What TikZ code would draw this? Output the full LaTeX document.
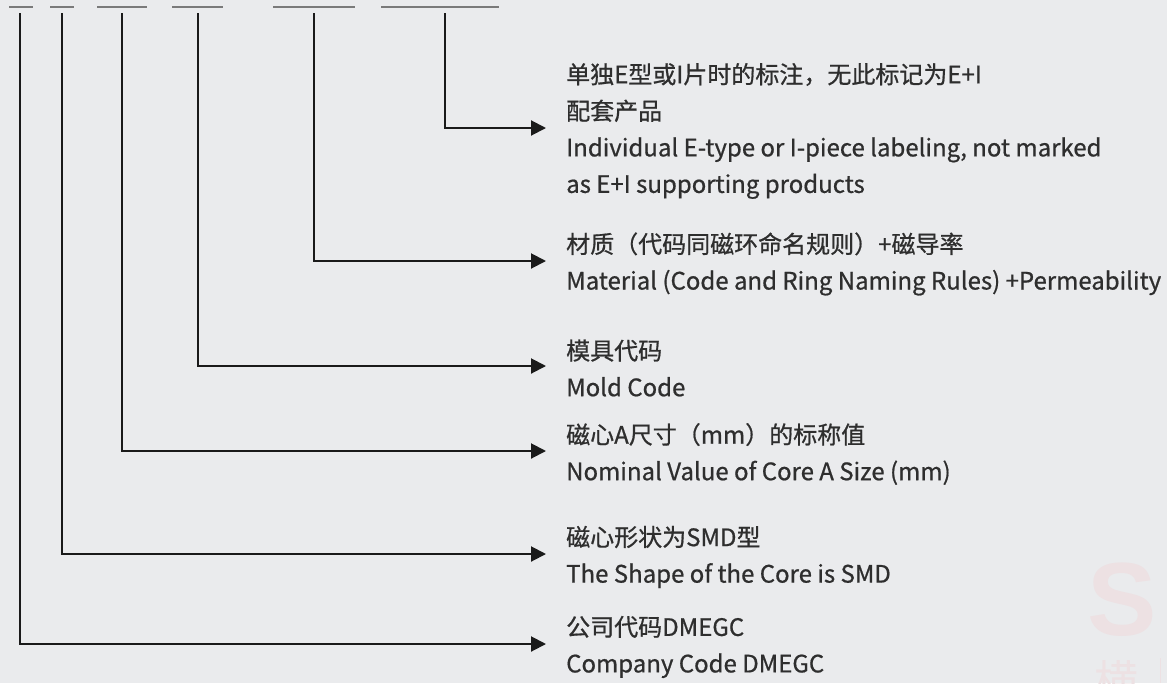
\documentclass[tikz,border=0pt]{standalone}
\usepackage{fontspec}
\setmainfont{Noto Sans CJK SC}
\newfontfamily\medfont{Noto Sans CJK SC}[FakeBold=0.7]
\newfontfamily\wmfont{Liberation Sans}
\usetikzlibrary{arrows.meta}
\definecolor{bgc}{HTML}{EAEBED}
\definecolor{txt}{HTML}{2E2E2E}
\definecolor{ln}{HTML}{1A1A1A}
\definecolor{ul}{HTML}{7A7A7A}
\definecolor{wm}{HTML}{EDE1E3}
\tikzset{
  conn/.style={draw=ln, line width=2pt, -{Triangle[length=15pt,width=15pt]}},
  uline/.style={draw=ul, line width=1.6pt},
  lbl/.style={anchor=west, inner xsep=20pt, inner ysep=0pt, align=left, text=txt,
    font=\medfont\fontsize{24}{36.5}\selectfont},
}
\begin{document}
\begin{tikzpicture}[x=1pt,y=-1pt]
\useasboundingbox[fill=bgc] (0,0) rectangle (1167,683);
% watermark
\node[text=wm, font=\wmfont\bfseries\fontsize{104}{104}\selectfont, inner sep=0pt] (wmS) at (1122,600) {S};
\node[text=wm, font=\fontsize{44}{44}\selectfont, inner sep=0pt] (wmH) at (1116,681) {横};
\draw[wm, line width=1pt] (1160,658) -- (1160,683);
% underlines
\draw[uline] (9,7) -- (33,7);
\draw[uline] (50,7) -- (74,7);
\draw[uline] (97,7) -- (147,7);
\draw[uline] (172,7) -- (223,7);
\draw[uline] (273,7) -- (355,7);
\draw[uline] (381,7) -- (499,7);
% starts
\coordinate (s1) at (20,13);
\coordinate (s2) at (62,13);
\coordinate (s3) at (122,13);
\coordinate (s4) at (198,13);
\coordinate (s5) at (314,13);
\coordinate (s6) at (445,13);
% labels
\node[lbl] (g6) at (546,131) {单独E型或I片时的标注，无此标记为E+I\\配套产品\\Individual E-type or I-piece labeling, not marked\\as E+I supporting products};
\node[lbl] (g5) at (546,264) {材质（代码同磁环命名规则）+磁导率\\Material (Code and Ring Naming Rules) +Permeability};
\node[lbl] (g4) at (546,368) {模具代码\\Mold Code};
\node[lbl] (g3) at (546,454) {磁心A尺寸（mm）的标称值\\Nominal Value of Core A Size (mm)};
\node[lbl] (g2) at (546,557) {磁心形状为SMD型\\The Shape of the Core is SMD};
\node[lbl] (g1) at (546,647) {公司代码DMEGC\\Company Code DMEGC};
% connectors
\draw[conn] (s6) |- ([yshift=3pt]g6.west);
\draw[conn] (s5) |- ([yshift=3pt]g5.west);
\draw[conn] (s4) |- ([yshift=2pt]g4.west);
\draw[conn] (s3) |- ([yshift=3pt]g3.west);
\draw[conn] (s2) |- ([yshift=3pt]g2.west);
\draw[conn] (s1) |- ([yshift=3pt]g1.west);
\end{tikzpicture}
\end{document}
